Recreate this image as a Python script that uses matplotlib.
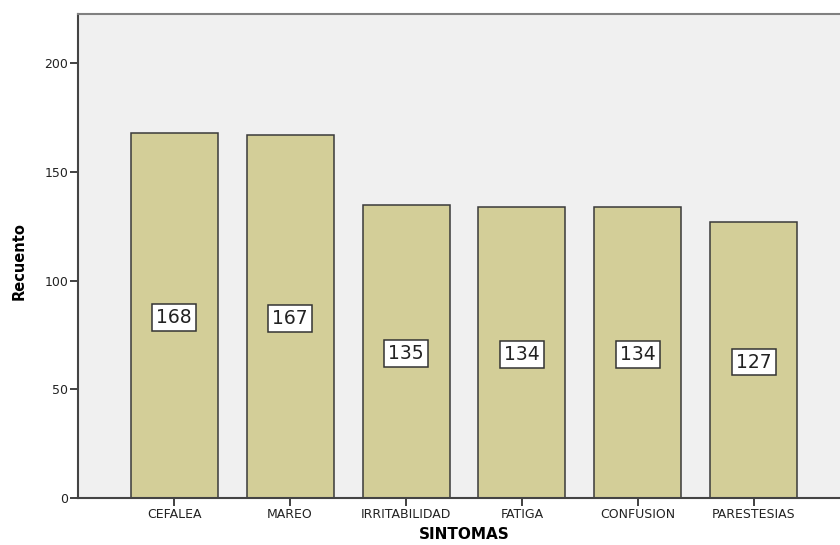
import numpy as np
import matplotlib
matplotlib.use("Agg")
import matplotlib.pyplot as plt

sintomas = ["CEFALEA", "MAREO", "IRRITABILIDAD", "FATIGA", "CONFUSION", "PARESTESIAS"]
recuento = [168, 167, 135, 134, 134, 127]
y_ticks = [0, 50, 100, 150, 200]

plt.rcParams["font.family"] = "DejaVu Sans"

fig = plt.figure(figsize=(8.4, 5.45), dpi=100)
# plot area runs a bit past the right edge of the figure
ax = fig.add_axes([78 / 840, 47 / 545, 772 / 840, 484 / 545])
ax.set_facecolor("#f0f0f0")

x = np.arange(len(sintomas))
bars = ax.bar(x, recuento, width=0.75, color="#d3ce98", edgecolor="#3a3a3a", linewidth=1.1, zorder=2)

for xi, v in zip(x, recuento):
    ax.text(xi, v / 2 - 1, str(v), ha="center", va="center", fontsize=13.5, color="#222222",
            bbox=dict(boxstyle="square,pad=0.2", fc="white", ec="#333333", lw=1.1), zorder=3)

ax.set_xlim(-0.828, len(sintomas) - 1 + 0.828)
ax.set_ylim(0, 222.7)
ax.set_xticks(x)
ax.set_xticklabels(sintomas, fontsize=9, color="#222222")
ax.set_yticks(y_ticks)
ax.set_yticklabels([str(t) for t in y_ticks], fontsize=9, color="#222222")
ax.tick_params(axis="y", length=6, width=1.3, color="#333333", pad=1)
ax.tick_params(axis="x", length=6, width=1.3, color="#333333", pad=1.5)

for side in ["left", "bottom"]:
    ax.spines[side].set_color("#444444")
    ax.spines[side].set_linewidth(1.5)
ax.spines["top"].set_color("#808080")
ax.spines["top"].set_linewidth(1.5)
ax.spines["right"].set_visible(False)

ax.set_xlabel("SINTOMAS", fontsize=11, fontweight="bold", labelpad=4)
ax.set_ylabel("Recuento", fontsize=10.5, fontweight="bold")
ax.yaxis.set_label_coords(-0.067, 0.49)

fig.savefig("out.png", dpi=100)
